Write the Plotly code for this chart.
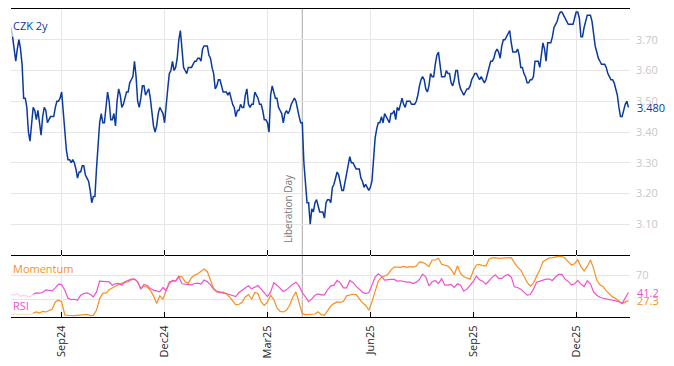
import pandas as pd
import plotly.graph_objects as go
from plotly.subplots import make_subplots

# ---------------- data ----------------
start_date = "2024-07-18"          # first business day of the series
end_range = "2026-01-16"

czk_2y = [
    3.74, 3.71, 3.66, 3.63, 3.67, 3.70, 3.67, 3.62, 3.51, 3.51,
    3.48, 3.40, 3.37, 3.43, 3.48, 3.47, 3.44, 3.47, 3.42, 3.39,
    3.45, 3.48, 3.47, 3.43, 3.44, 3.45, 3.45, 3.45, 3.48, 3.50,
    3.50, 3.51, 3.53, 3.46, 3.40, 3.34, 3.31, 3.31, 3.30, 3.31,
    3.30, 3.28, 3.25, 3.27, 3.27, 3.29, 3.29, 3.26, 3.25, 3.24,
    3.21, 3.17, 3.19, 3.19, 3.28, 3.36, 3.43, 3.46, 3.43, 3.43,
    3.48, 3.53, 3.50, 3.44, 3.44, 3.46, 3.42, 3.50, 3.54, 3.52,
    3.48, 3.49, 3.51, 3.53, 3.53, 3.56, 3.57, 3.58, 3.63, 3.58,
    3.50, 3.48, 3.51, 3.55, 3.55, 3.52, 3.53, 3.54, 3.51, 3.47,
    3.42, 3.40, 3.42, 3.46, 3.48, 3.47, 3.46, 3.43, 3.50, 3.54,
    3.59, 3.60, 3.63, 3.60, 3.61, 3.64, 3.70, 3.73, 3.67, 3.61,
    3.60, 3.59, 3.61, 3.61, 3.61, 3.62, 3.63, 3.63, 3.64, 3.64,
    3.63, 3.67, 3.68, 3.68, 3.68, 3.65, 3.64, 3.61, 3.59, 3.54,
    3.55, 3.57, 3.57, 3.55, 3.53, 3.53, 3.53, 3.52, 3.53, 3.51,
    3.49, 3.48, 3.45, 3.47, 3.47, 3.49, 3.48, 3.48, 3.52, 3.54,
    3.49, 3.48, 3.49, 3.49, 3.53, 3.52, 3.51, 3.49, 3.49, 3.47,
    3.44, 3.44, 3.43, 3.40, 3.52, 3.55, 3.53, 3.51, 3.51, 3.48,
    3.47, 3.46, 3.43, 3.46, 3.47, 3.46, 3.47, 3.49, 3.50, 3.51,
    3.50, 3.47, 3.45, 3.43, 3.43, 3.30, 3.22, 3.17, 3.17, 3.10,
    3.15, 3.14, 3.17, 3.18, 3.16, 3.14, 3.14, 3.14, 3.12, 3.17,
    3.18, 3.18, 3.17, 3.22, 3.23, 3.25, 3.27, 3.26, 3.23, 3.21,
    3.21, 3.24, 3.27, 3.30, 3.32, 3.30, 3.30, 3.29, 3.28, 3.28,
    3.28, 3.25, 3.24, 3.22, 3.23, 3.22, 3.21, 3.22, 3.24, 3.31,
    3.38, 3.41, 3.43, 3.43, 3.45, 3.43, 3.46, 3.45, 3.44, 3.43,
    3.46, 3.46, 3.47, 3.44, 3.48, 3.47, 3.49, 3.51, 3.49, 3.48,
    3.50, 3.50, 3.50, 3.49, 3.49, 3.49, 3.50, 3.52, 3.55, 3.57,
    3.58, 3.57, 3.54, 3.53, 3.55, 3.59, 3.58, 3.58, 3.62, 3.65,
    3.66, 3.61, 3.58, 3.58, 3.58, 3.60, 3.59, 3.59, 3.56, 3.55,
    3.57, 3.60, 3.60, 3.56, 3.54, 3.53, 3.52, 3.53, 3.54, 3.54,
    3.55, 3.57, 3.58, 3.59, 3.59, 3.58, 3.57, 3.58, 3.57, 3.56,
    3.57, 3.59, 3.61, 3.63, 3.63, 3.64, 3.66, 3.67, 3.66, 3.64,
    3.68, 3.70, 3.70, 3.71, 3.72, 3.73, 3.69, 3.66, 3.66, 3.66,
    3.67, 3.65, 3.61, 3.61, 3.59, 3.58, 3.56, 3.56, 3.57, 3.57,
    3.58, 3.63, 3.63, 3.63, 3.61, 3.66, 3.69, 3.67, 3.63, 3.69,
    3.69, 3.69, 3.71, 3.74, 3.75, 3.76, 3.78, 3.79, 3.79, 3.78,
    3.77, 3.76, 3.75, 3.75, 3.75, 3.75, 3.77, 3.79, 3.79, 3.77,
    3.71, 3.71, 3.74, 3.76, 3.78, 3.78, 3.78, 3.76, 3.71, 3.68,
    3.66, 3.64, 3.63, 3.62, 3.62, 3.62, 3.61, 3.59, 3.58, 3.57,
    3.57, 3.56, 3.54, 3.52, 3.48, 3.45, 3.45, 3.47, 3.49, 3.50,
    3.480,
]

# indicators, sampled every second business day
rsi = [
    37.8, 36.7, 39.5, 35.0, 36.7, 35.0, 33.9, 38.3,
    40.6, 40.0, 41.1, 45.6, 44.5, 43.9, 48.9, 55.0,
    54.4, 45.0, 31.7, 29.4, 30.0, 28.3, 36.7, 39.5,
    40.6, 38.3, 33.9, 42.2, 60.0, 59.5, 58.9, 58.9,
    53.3, 55.6, 56.1, 53.3, 58.9, 61.7, 63.3, 63.3,
    58.9, 46.7, 54.4, 52.8, 47.8, 45.0, 43.9, 42.2,
    49.5, 44.5, 56.1, 61.1, 60.0, 67.2, 55.6, 55.0,
    55.0, 53.9, 56.1, 56.7, 55.0, 61.7, 58.9, 53.9,
    46.7, 42.2, 42.2,
    40.0, 39.5, 37.8, 35.6, 34.4, 41.1, 44.5, 48.9,
    52.2, 47.2, 50.0, 52.8, 46.7, 40.0, 34.4, 42.2,
    57.2, 53.3, 47.2, 42.8, 45.6, 50.6, 55.0, 58.3,
    51.7, 41.1, 33.9, 26.1, 30.6, 36.7, 38.9, 37.2,
    37.2, 46.1, 51.7, 53.3, 61.1, 57.2, 48.9, 48.9,
    61.1, 57.8, 51.7, 46.1, 41.7, 39.5, 40.6, 53.3,
    66.7, 72.2, 68.3, 61.7, 62.8, 62.8, 62.8, 60.0,
    60.6, 58.9, 58.3, 58.3, 56.1, 58.3, 62.8, 71.7,
    67.2, 52.2,
    58.9, 61.1, 56.1, 63.9, 53.3, 53.3, 54.4, 49.5,
    55.6, 53.3, 43.3, 46.7, 53.3, 59.5, 68.3, 62.2,
    60.0, 55.0, 60.6, 66.7, 70.6, 64.5, 64.5, 68.9,
    71.1, 66.7, 50.6, 49.5, 46.7, 41.7, 36.7, 37.8,
    46.7, 58.3, 60.6, 61.7, 63.3, 63.3, 61.1, 67.2,
    71.1, 71.1, 63.3, 59.5, 53.9, 55.6, 61.1, 55.0,
    51.1, 60.6, 55.6, 42.2, 36.7, 33.3, 31.7, 31.1,
    29.4, 28.3, 26.7, 26.1, 22.8, 31.1, 41.2,
]

momentum = [
    5.0, 5.0, 5.0, 4.5, 3.9, 4.5, 5.0, 6.7,
    8.9, 7.2, 10.0, 8.9, 11.7, 13.4, 25.6, 28.9,
    25.6, 3.9, 3.3, 2.8, 2.8, 3.3, 3.9, 3.9,
    5.0, 2.8, 3.3, 11.7, 31.1, 40.0, 40.0, 45.6,
    48.9, 52.2, 54.4, 56.7, 58.3, 58.9, 62.2, 63.3,
    58.9, 47.8, 52.2, 50.0, 45.0, 35.6, 22.8, 35.6,
    30.0, 43.3, 58.9, 60.0, 60.6, 68.3, 67.2, 58.9,
    56.7, 65.6, 70.0, 72.2, 75.6, 80.0, 75.6, 62.8,
    47.8, 43.3, 40.6,
    42.2, 38.9, 33.9, 26.7, 20.6, 21.7, 25.0, 33.9,
    37.8, 30.0, 41.1, 39.5, 25.6, 20.0, 25.6, 36.7,
    29.4, 15.6, 10.0, 8.9, 11.7, 20.0, 33.4, 42.2,
    25.6, 6.1, 4.5, 4.5, 4.5, 5.6, 9.4, 4.5,
    3.3, 11.1, 18.9, 22.8, 25.6, 25.0, 26.7, 35.6,
    37.2, 38.3, 37.8, 31.1, 23.9, 20.0, 11.7, 25.6,
    43.9, 60.0, 66.1, 68.9, 71.1, 78.3, 83.3, 83.3,
    82.8, 84.5, 82.8, 83.9, 83.3, 85.0, 91.7, 91.1,
    88.4, 84.0,
    95.0, 95.0, 97.8, 87.8, 86.7, 85.0, 79.4, 70.6,
    85.6, 72.2, 67.2, 65.6, 63.3, 77.2, 86.7, 87.8,
    85.6, 85.0, 96.7, 98.4, 98.9, 97.8, 97.8, 97.8,
    98.9, 98.9, 90.6, 83.3, 78.3, 67.8, 58.3, 51.7,
    56.7, 68.3, 78.3, 92.2, 95.0, 98.4, 98.9, 100.6,
    101.1, 101.1, 97.8, 92.2, 86.7, 88.9, 95.6, 83.9,
    76.7, 84.4, 95.0, 81.1, 61.7, 53.9, 51.1, 43.9,
    38.3, 33.9, 31.1, 26.7, 22.8, 25.6, 27.3,
]

tick_dates = ["2024-09-02", "2024-12-02", "2025-03-03",
              "2025-06-02", "2025-09-01", "2025-12-01"]
tick_labels = ["Sep24", "Dec24", "Mar25", "Jun25", "Sep25", "Dec25"]
czk_ticks = [3.1, 3.2, 3.3, 3.4, 3.5, 3.6, 3.7]
ind_ticks = [30, 70]
ind_tick_labels = ["", "70"]

event_date = "2025-04-02"
event_label = "Liberation Day"
warmup_points = 8          # indicator warm-up (every 2nd business day)

# ---------------- styling ----------------
FONT = "Open Sans"
BLUE = "#0b3a9e"
ORANGE = "#f7901e"
PINK = "#f050d0"
GRID = "#e6e6e6"
TICKGRAY = "#c8c8c8"

dates = pd.bdate_range(start_date, periods=len(czk_2y))
ind_dates = dates[::2]

fig = make_subplots(rows=2, cols=1, shared_xaxes=True, vertical_spacing=0,
                    row_heights=[0.7987, 0.2013])

# main series (first segment faded)
fig.add_trace(go.Scatter(x=dates[:2], y=czk_2y[:2], mode="lines",
                         line=dict(color=BLUE, width=1.5), opacity=0.3,
                         hoverinfo="skip", showlegend=False), row=1, col=1)
fig.add_trace(go.Scatter(x=dates[1:], y=czk_2y[1:], mode="lines",
                         line=dict(color=BLUE, width=1.5),
                         name="CZK 2y", showlegend=False), row=1, col=1)

# indicators (warm-up faded)
for vals, col, nm in [(momentum, ORANGE, "Momentum"), (rsi, PINK, "RSI")]:
    fig.add_trace(go.Scatter(x=ind_dates[:warmup_points], y=vals[:warmup_points],
                             mode="lines", line=dict(color=col, width=1.2),
                             opacity=0.25, hoverinfo="skip", showlegend=False),
                  row=2, col=1)
    fig.add_trace(go.Scatter(x=ind_dates[warmup_points - 1:], y=vals[warmup_points - 1:],
                             mode="lines", line=dict(color=col, width=1.2),
                             name=nm, showlegend=False), row=2, col=1)

xcommon = dict(type="date", rangebreaks=[dict(bounds=["sat", "mon"])],
               range=[start_date, end_range], showgrid=True, gridcolor=GRID,
               tickvals=tick_dates, ticktext=tick_labels,
               ticks="inside", ticklen=5, tickcolor="black",
               showline=True, linecolor="black", linewidth=1, zeroline=False,
               automargin=False)

fig.update_xaxes(**xcommon)
fig.update_xaxes(row=1, col=1, showticklabels=False, mirror=True)
fig.update_xaxes(row=2, col=1, showticklabels=True, tickangle=-90,
                 ticklabelstandoff=3,
                 tickfont=dict(family=FONT, size=11, color="#222222"))

fig.update_yaxes(row=1, col=1, side="right", range=[3.0, 3.8],
                 tickvals=czk_ticks, tickformat=".2f",
                 tickfont=dict(family=FONT, size=11, color=TICKGRAY),
                 showgrid=True, gridcolor=GRID, zeroline=False, showline=False,
                 ticklabelstandoff=5, automargin=False)
fig.update_yaxes(row=2, col=1, side="right", range=[0.6, 103.3],
                 tickvals=ind_ticks, ticktext=ind_tick_labels,
                 tickfont=dict(family=FONT, size=11, color=TICKGRAY),
                 showgrid=True, gridcolor=GRID, zeroline=False, showline=False,
                 ticklabelstandoff=5, automargin=False)

fig.add_shape(type="line", xref="x", yref="paper", x0=event_date, x1=event_date,
              y0=0, y1=1, line=dict(color="#aaaaaa", width=1), layer="below")

annotations = [
    dict(text="CZK 2y", xref="paper", yref="paper", x=0, y=0.9464,
         xanchor="left", yanchor="middle", showarrow=False,
         font=dict(family=FONT, size=11, color=BLUE)),
    dict(text="Momentum", xref="paper", yref="paper", x=0, y=0.159,
         xanchor="left", yanchor="middle", showarrow=False,
         font=dict(family=FONT, size=11, color=ORANGE)),
    dict(text="RSI", xref="paper", yref="paper", x=0, y=0.0367,
         xanchor="left", yanchor="middle", showarrow=False,
         font=dict(family=FONT, size=11, color=PINK)),
    dict(text=f"{czk_2y[-1]:.3f}", xref="paper", yref="y", x=1, y=czk_2y[-1],
         xanchor="left", yanchor="middle", showarrow=False, xshift=5,
         font=dict(family=FONT, size=11, color=BLUE)),
    dict(text=f"{rsi[-1]:.1f}", xref="paper", yref="y2", x=1, y=rsi[-1],
         xanchor="left", yanchor="middle", showarrow=False, xshift=5,
         font=dict(family=FONT, size=11, color=PINK)),
    dict(text=f"{momentum[-1]:.1f}", xref="paper", yref="y2", x=1, y=momentum[-1],
         xanchor="left", yanchor="middle", showarrow=False, xshift=5,
         font=dict(family=FONT, size=11, color=ORANGE)),
    dict(text=event_label, xref="x", yref="y domain", x=event_date, y=0,
         xanchor="right", yanchor="bottom", textangle=-90, showarrow=False,
         xshift=-5, yshift=10,
         font=dict(family=FONT, size=10, color="#777777")),
]

# the page body adds an 8px margin, so the figure is sized to fill the window
fig.update_layout(width=666, height=358,
                  margin=dict(l=3, r=44, t=1, b=49, autoexpand=False),
                  plot_bgcolor="white", paper_bgcolor="white",
                  font=dict(family=FONT, size=11),
                  showlegend=False, annotations=annotations)

fig.write_html("out.html")
